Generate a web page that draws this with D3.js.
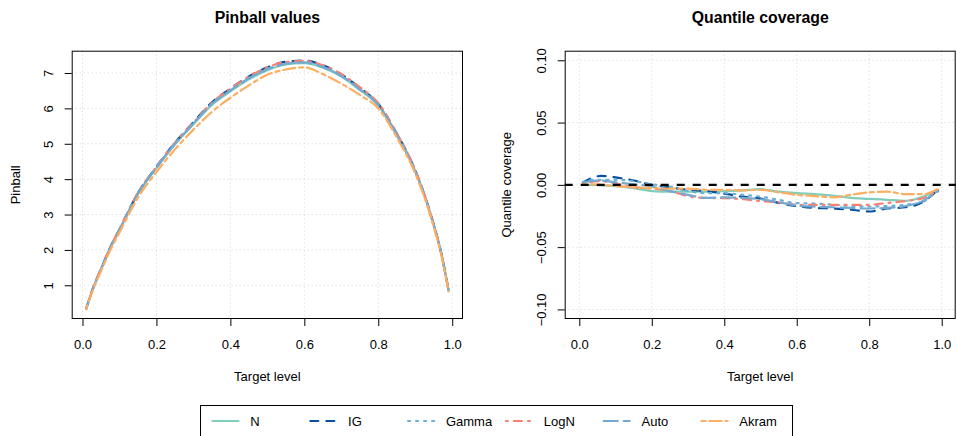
<!DOCTYPE html>
<html>
<head>
<meta charset="utf-8">
<script src="https://cdn.jsdelivr.net/npm/d3@7/dist/d3.min.js"></script>
<style>
    body { margin: 0; background: #fff; }
    svg { display: block; font-family: "Liberation Sans", Arial, Helvetica, sans-serif; }
</style>
</head>
<body>
<svg id="chart" width="957" height="436"></svg>
<script>
const seriesNames = ['N', 'IG', 'Gamma', 'LogN', 'Auto', 'Akram'];

// pinball values per target level
const pinballLevels = [0.01, 0.03, 0.05, 0.075, 0.1, 0.15, 0.2, 0.25, 0.3, 0.35, 0.4, 0.45, 0.5,
    0.55, 0.6, 0.65, 0.7, 0.75, 0.8, 0.85, 0.9, 0.93, 0.95, 0.97, 0.99];
const pinballN     = [0.34, 0.95, 1.45, 2.05, 2.56, 3.58, 4.31, 4.98, 5.55, 6.10, 6.48, 6.82, 7.08, 7.24, 7.28, 7.15, 6.90, 6.52, 6.08, 5.25, 4.22, 3.38, 2.70, 1.92, 0.86];
const pinballIG    = [0.34, 0.96, 1.46, 2.07, 2.58, 3.61, 4.35, 5.03, 5.61, 6.17, 6.56, 6.90, 7.16, 7.32, 7.35, 7.22, 6.96, 6.58, 6.13, 5.29, 4.25, 3.40, 2.72, 1.93, 0.86];
const pinballGamma = [0.33, 0.95, 1.45, 2.06, 2.57, 3.59, 4.32, 5.00, 5.57, 6.12, 6.50, 6.84, 7.10, 7.26, 7.30, 7.17, 6.92, 6.54, 6.10, 5.27, 4.23, 3.39, 2.71, 1.92, 0.87];
const pinballLogN  = [0.34, 0.96, 1.47, 2.08, 2.59, 3.62, 4.35, 5.03, 5.60, 6.16, 6.55, 6.90, 7.16, 7.31, 7.34, 7.22, 6.97, 6.60, 6.15, 5.30, 4.26, 3.41, 2.72, 1.93, 0.87];
const pinballAuto  = [0.33, 0.95, 1.45, 2.06, 2.57, 3.59, 4.33, 5.00, 5.57, 6.13, 6.51, 6.85, 7.11, 7.26, 7.30, 7.17, 6.92, 6.54, 6.10, 5.26, 4.22, 3.38, 2.70, 1.92, 0.86];
const pinballAkram = [0.33, 0.92, 1.40, 1.99, 2.49, 3.48, 4.20, 4.84, 5.40, 5.90, 6.30, 6.65, 6.95, 7.10, 7.16, 6.97, 6.70, 6.38, 6.00, 5.18, 4.16, 3.33, 2.65, 1.88, 0.83];

// quantile coverage (empirical minus target) per target level
const coverageLevels = [0.01, 0.03, 0.06, 0.1, 0.15, 0.2, 0.25, 0.3, 0.35, 0.4, 0.45, 0.5,
    0.55, 0.6, 0.65, 0.7, 0.75, 0.8, 0.85, 0.9, 0.95, 0.97, 0.99];
const coverageN     = [0.0000, 0.0000, -0.0005, -0.0010, -0.0027, -0.0050, -0.0055, -0.0055, -0.0055, -0.0050, -0.0045, -0.0035, -0.0055, -0.0067, -0.0075, -0.0086, -0.0105, -0.0112, -0.0120, -0.0128, -0.0094, -0.0070, -0.0040];
const coverageIG    = [0.0020, 0.0050, 0.0072, 0.0060, 0.0035, 0.0000, -0.0020, -0.0040, -0.0050, -0.0070, -0.0095, -0.0110, -0.0145, -0.0170, -0.0185, -0.0190, -0.0200, -0.0214, -0.0190, -0.0180, -0.0134, -0.0090, -0.0040];
const coverageGamma = [0.0020, 0.0040, 0.0040, 0.0040, 0.0030, 0.0005, -0.0013, -0.0050, -0.0067, -0.0067, -0.0080, -0.0095, -0.0120, -0.0147, -0.0150, -0.0160, -0.0170, -0.0174, -0.0170, -0.0160, -0.0134, -0.0090, -0.0050];
const coverageLogN  = [0.0005, 0.0020, 0.0030, 0.0010, -0.0020, -0.0030, -0.0050, -0.0090, -0.0105, -0.0107, -0.0115, -0.0130, -0.0140, -0.0160, -0.0160, -0.0160, -0.0160, -0.0160, -0.0145, -0.0130, -0.0105, -0.0080, -0.0040];
const coverageAuto  = [0.0020, 0.0030, 0.0035, 0.0020, 0.0005, -0.0013, -0.0050, -0.0080, -0.0105, -0.0100, -0.0105, -0.0115, -0.0140, -0.0165, -0.0175, -0.0180, -0.0185, -0.0190, -0.0185, -0.0170, -0.0125, -0.0090, -0.0050];
const coverageAkram = [0.0000, 0.0005, 0.0000, -0.0010, -0.0020, -0.0027, -0.0030, -0.0030, -0.0040, -0.0040, -0.0045, -0.0040, -0.0060, -0.0080, -0.0090, -0.0100, -0.0080, -0.0060, -0.0055, -0.0075, -0.0075, -0.0060, -0.0030];

const levelTicks = [0, 0.2, 0.4, 0.6, 0.8, 1];
const pinballTicks = [1, 2, 3, 4, 5, 6, 7];
const coverageTicks = [-0.1, -0.05, 0, 0.05, 0.1];

const colors = ['#7fcdbb', '#08519c', '#6baed6', '#fb8072', '#74a9cf', '#fdae61'];
const dashes = [null, '8,8', '2,6', '2,6,8,6', '14,6', '4,4,12,4'];

const svg = d3.select('#chart');

function drawPanel(cfg) {
    const x = d3.scaleLinear().domain(cfg.xDomain).range([cfg.left, cfg.right]);
    const y = d3.scaleLinear().domain(cfg.yDomain).range([cfg.bottom, cfg.top]);
    const g = svg.append('g');

    // dotted grid
    g.append('g').selectAll('line').data(levelTicks).join('line')
        .attr('x1', d => x(d)).attr('x2', d => x(d))
        .attr('y1', cfg.top).attr('y2', cfg.bottom)
        .attr('stroke', '#d3d3d3').attr('stroke-dasharray', '1,3');
    g.append('g').selectAll('line').data(cfg.yTicks).join('line')
        .attr('x1', cfg.left).attr('x2', cfg.right)
        .attr('y1', d => y(d)).attr('y2', d => y(d))
        .attr('stroke', '#d3d3d3').attr('stroke-dasharray', '1,3');

    const line = d3.line()
        .x(d => x(d[0]))
        .y(d => y(d[1]))
        .curve(cfg.curve);

    cfg.series.forEach((vals, i) => {
        g.append('path')
            .datum(cfg.levels.map((l, j) => [l, vals[j]]))
            .attr('fill', 'none')
            .attr('stroke', colors[i])
            .attr('stroke-width', 2.2)
            .attr('stroke-linecap', 'round')
            .attr('stroke-dasharray', dashes[i])
            .attr('d', line);
    });

    if (cfg.zeroLine) {
        g.append('line')
            .attr('x1', cfg.left).attr('x2', cfg.right)
            .attr('y1', y(0)).attr('y2', y(0))
            .attr('stroke', '#000')
            .attr('stroke-width', 2.2)
            .attr('stroke-dasharray', '8,8');
    }

    // axes
    const xAxis = g.append('g')
        .attr('transform', `translate(0,${cfg.bottom})`)
        .call(d3.axisBottom(x).tickValues(levelTicks).tickSize(7).tickFormat(d3.format('.1f')));
    xAxis.select('.domain').remove();
    xAxis.selectAll('.tick line').attr('stroke', '#000');
    xAxis.selectAll('text')
        .attr('y', 30).attr('dy', 0)
        .attr('fill', '#000')
        .style('font-size', '13px');

    const yAxis = g.append('g')
        .attr('transform', `translate(${cfg.left},0)`)
        .call(d3.axisLeft(y).tickValues(cfg.yTicks).tickSize(7).tickFormat(cfg.yFormat));
    yAxis.select('.domain').remove();
    yAxis.selectAll('.tick line').attr('stroke', '#000');
    yAxis.selectAll('text')
        .attr('transform', 'rotate(-90)')
        .attr('x', 0).attr('y', -18.5).attr('dy', 0)
        .attr('text-anchor', 'middle')
        .attr('fill', '#000')
        .style('font-size', '13px');

    g.append('rect')
        .attr('x', cfg.left + 0.5).attr('y', cfg.top + 0.5)
        .attr('width', cfg.right - cfg.left - 1).attr('height', cfg.bottom - cfg.top - 1)
        .attr('fill', 'none').attr('stroke', '#000');

    g.append('text')
        .attr('x', (cfg.left + cfg.right) / 2).attr('y', 22.7)
        .attr('text-anchor', 'middle')
        .style('font-size', '15.8px').style('font-weight', 'bold')
        .text(cfg.title);

    g.append('text')
        .attr('x', (cfg.left + cfg.right) / 2).attr('y', 381)
        .attr('text-anchor', 'middle')
        .style('font-size', '13px')
        .text('Target level');

    g.append('text')
        .attr('transform', 'rotate(-90)')
        .attr('x', -(cfg.top + cfg.bottom) / 2).attr('y', cfg.left - cfg.ylabOffset)
        .attr('text-anchor', 'middle')
        .style('font-size', '13px')
        .text(cfg.ylab);
}

drawPanel({
    left: 71.7, right: 463, top: 50.7, bottom: 319,
    xDomain: [-0.0292, 1.0292], yDomain: [0.048, 7.63],
    yTicks: pinballTicks, yFormat: d3.format('d'),
    levels: pinballLevels,
    series: [pinballN, pinballIG, pinballGamma, pinballLogN, pinballAuto, pinballAkram],
    curve: d3.curveMonotoneX,
    title: 'Pinball values', ylab: 'Pinball', ylabOffset: 51.7
});

drawPanel({
    left: 564.7, right: 955.7, top: 50.7, bottom: 319,
    xDomain: [-0.0403, 1.0386], yDomain: [-0.1077, 0.1077],
    yTicks: coverageTicks, yFormat: d3.format('.2f'),
    levels: coverageLevels,
    series: [coverageN, coverageIG, coverageGamma, coverageLogN, coverageAuto, coverageAkram],
    curve: d3.curveMonotoneX,
    zeroLine: true,
    title: 'Quantile coverage', ylab: 'Quantile coverage', ylabOffset: 53.5
});

// legend
const legendX = d3.scalePoint().domain(seriesNames).range([212.5, 701.5]);
const legend = svg.append('g');
legend.append('rect')
    .attr('x', 200.5).attr('y', 405.5)
    .attr('width', 592).attr('height', 40)
    .attr('fill', 'none').attr('stroke', '#000');
seriesNames.forEach((name, i) => {
    legend.append('line')
        .attr('x1', legendX(name)).attr('x2', legendX(name) + 26)
        .attr('y1', 421).attr('y2', 421)
        .attr('stroke', colors[i])
        .attr('stroke-width', 2.2)
        .attr('stroke-linecap', 'round')
        .attr('stroke-dasharray', dashes[i]);
    legend.append('text')
        .attr('x', legendX(name) + 37.8).attr('y', 426)
        .style('font-size', '13px')
        .text(name);
});
</script>
</body>
</html>
